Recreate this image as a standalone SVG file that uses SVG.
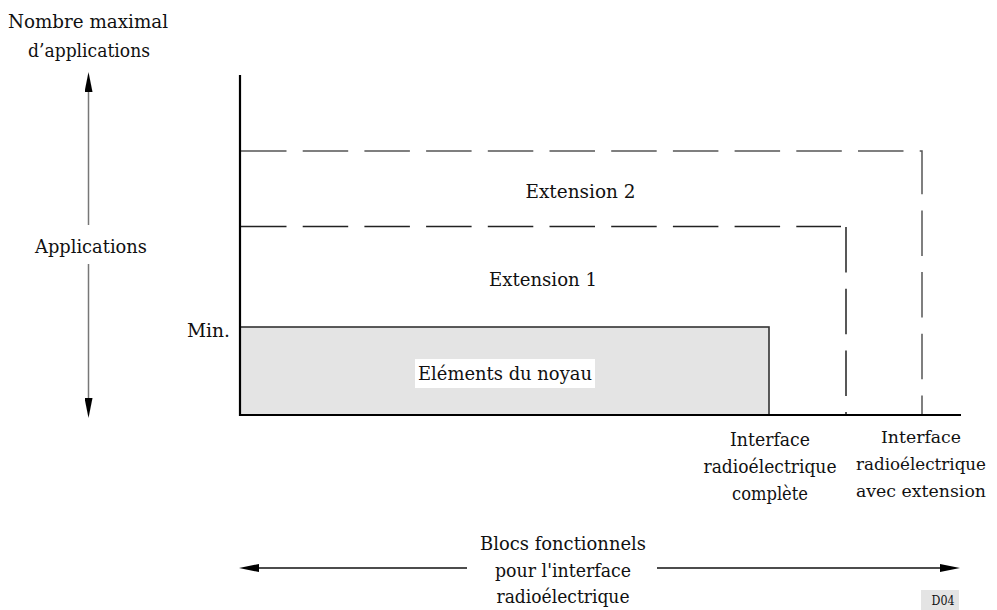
<svg xmlns="http://www.w3.org/2000/svg" width="997" height="610" viewBox="0 0 997 610">
  <style>
    text { font-family: "DejaVu Serif", "Liberation Serif", serif; font-size: 19px; fill: #111; text-anchor: middle; }
    .edge { font-size: 17px; }
    .small { font-size: 12px; }
    .axis { stroke: #000; stroke-width: 2.2; fill: none; }
    .dash2 { stroke: #555; stroke-width: 1.5; fill: none; stroke-dasharray: 45.5 16.2; }
    .dash1 { stroke: #222; stroke-width: 1.5; fill: none; stroke-dasharray: 45.5 16.2; }
    .garrow { stroke: #777; stroke-width: 1.5; fill: none; }
    .barrow { stroke: #111; stroke-width: 1.5; fill: none; }
  </style>
  <defs>
    <marker id="head" viewBox="0 0 20 8" refX="0" refY="4" markerWidth="20" markerHeight="8" markerUnits="userSpaceOnUse" orient="auto-start-reverse">
      <path d="M0,0 L20,4 L0,8 z" fill="#000"/>
    </marker>
  </defs>

  <rect width="997" height="610" fill="#fff"/>

  <!-- core block -->
  <g id="core">
    <rect x="240" y="327" width="529" height="88" fill="#e4e4e4" stroke="#333" stroke-width="1.6"/>
    <rect x="415" y="359" width="180" height="29" fill="#fff"/>
    <text x="505" y="380" textLength="174" lengthAdjust="spacingAndGlyphs">Eléments du noyau</text>
  </g>

  <!-- extension areas -->
  <g id="ext1">
    <line class="dash1" x1="241" y1="226.5" x2="841" y2="226.5"/>
    <line class="dash1" x1="846" y1="227" x2="846" y2="415"/>
    <text x="543" y="286" textLength="108" lengthAdjust="spacingAndGlyphs">Extension 1</text>
  </g>
  <g id="ext2">
    <path class="dash2" d="M241,151 H922 V415"/>
    <text x="580.5" y="198" textLength="110" lengthAdjust="spacingAndGlyphs">Extension 2</text>
  </g>

  <!-- axes -->
  <g id="axes">
    <line class="axis" x1="240" y1="75" x2="240" y2="416"/>
    <line class="axis" x1="239" y1="415" x2="961" y2="415"/>
  </g>

  <g id="min-label">
    <text x="208.5" y="337" textLength="43" lengthAdjust="spacingAndGlyphs">Min.</text>
  </g>

  <!-- y axis caption -->
  <g id="y-caption">
    <text x="88" y="28" textLength="160" lengthAdjust="spacingAndGlyphs">Nombre maximal</text>
    <text x="89" y="57" textLength="122" lengthAdjust="spacingAndGlyphs">d’applications</text>
  </g>
  <g id="applications">
    <text x="91" y="253" textLength="112" lengthAdjust="spacingAndGlyphs">Applications</text>
  </g>

  <g id="iface-full">
    <text x="770" y="446" textLength="80" lengthAdjust="spacingAndGlyphs">Interface</text>
    <text x="770" y="473" textLength="133" lengthAdjust="spacingAndGlyphs">radioélectrique</text>
    <text x="770" y="500" textLength="76" lengthAdjust="spacingAndGlyphs">complète</text>
  </g>
  <g id="iface-ext">
    <text class="edge" x="921" y="443" textLength="80" lengthAdjust="spacingAndGlyphs">Interface</text>
    <text class="edge" x="921" y="470" textLength="130" lengthAdjust="spacingAndGlyphs">radioélectrique</text>
    <text class="edge" x="921" y="497" textLength="130" lengthAdjust="spacingAndGlyphs">avec extension</text>
  </g>

  <g id="x-caption">
    <text x="563" y="550" textLength="166" lengthAdjust="spacingAndGlyphs">Blocs fonctionnels</text>
    <text x="563" y="577" textLength="136" lengthAdjust="spacingAndGlyphs">pour l'interface</text>
    <text x="563" y="603" textLength="133" lengthAdjust="spacingAndGlyphs">radioélectrique</text>
  </g>

  <g id="tag">
    <rect x="921" y="590" width="38" height="20" fill="#e4e4e4"/>
    <text class="small" x="943" y="605" textLength="23" lengthAdjust="spacingAndGlyphs">D04</text>
  </g>

  <!-- connectors -->
  <g id="connectors">
    <line class="garrow" x1="88.5" y1="92" x2="88.5" y2="225" marker-start="url(#head)"/>
    <line class="garrow" x1="88.5" y1="264" x2="88.5" y2="398" marker-end="url(#head)"/>
    <line class="barrow" x1="259" y1="568" x2="467" y2="568" marker-start="url(#head)"/>
    <line class="barrow" x1="657" y1="568" x2="940" y2="568" marker-end="url(#head)"/>
  </g>
</svg>
